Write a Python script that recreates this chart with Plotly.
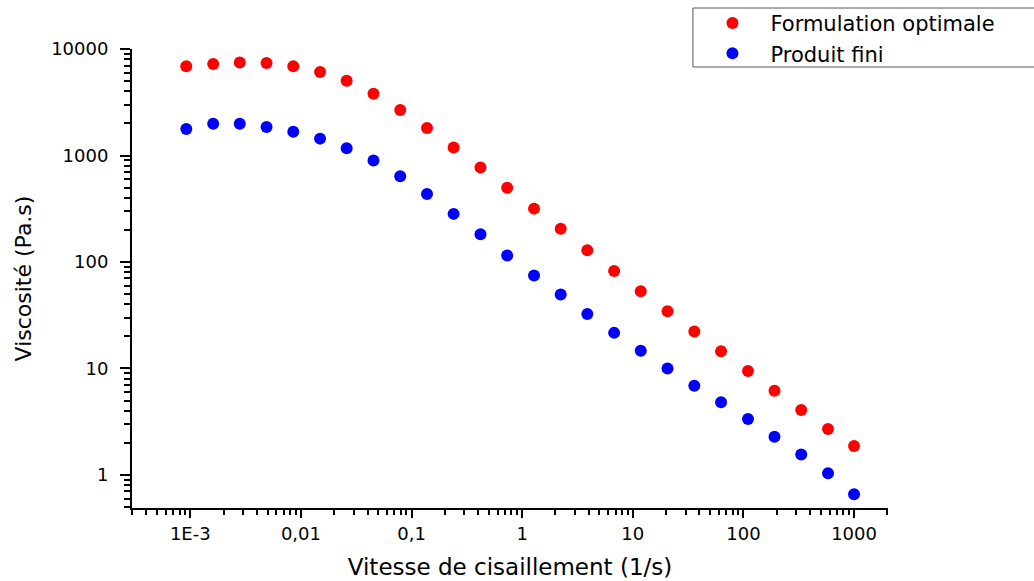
import plotly.graph_objects as go

# Data
shear_rate = [0.00092, 0.00161, 0.0028, 0.00489, 0.00853, 0.0149, 0.0259, 0.0453,
              0.079, 0.138, 0.24, 0.42, 0.732, 1.28, 2.23, 3.88, 6.78, 11.8,
              20.6, 36.0, 62.8, 110, 191, 333, 582, 1000]
visc_formulation = [6870, 7230, 7480, 7390, 6870, 6080, 5040, 3800, 2670, 1810,
                    1190, 771, 497, 317, 205, 129, 82.5, 53.2, 34.5, 22.2,
                    14.5, 9.48, 6.18, 4.07, 2.70, 1.87]
visc_produit = [1770, 1990, 1990, 1850, 1670, 1440, 1170, 898, 640, 434,
                283, 182, 115, 74.5, 49.4, 32.5, 21.6, 14.7, 10.0, 6.89,
                4.81, 3.35, 2.29, 1.56, 1.04, 0.66]

series_names = ["Formulation optimale", "Produit fini"]
x_tickvals = [0.001, 0.01, 0.1, 1, 10, 100, 1000]
x_ticktext = ["1E-3", "0,01", "0,1", "1", "10", "100", "1000"]
y_tickvals = [1, 10, 100, 1000, 10000]
y_ticktext = ["1", "10", "100", "1000", "10000"]

FONT = "DejaVu Sans"

def minor_vals(lo_exp, hi_exp):
    vals = []
    for e in range(lo_exp, hi_exp + 1):
        for m in range(2, 10):
            vals.append(m * 10.0 ** e)
    return vals

fig = go.Figure()
fig.add_trace(go.Scatter(x=shear_rate, y=visc_formulation, mode="markers",
                         name=series_names[0],
                         marker=dict(color="#FF0000", size=12, symbol="circle")))
fig.add_trace(go.Scatter(x=shear_rate, y=visc_produit, mode="markers",
                         name=series_names[1],
                         marker=dict(color="#0000FF", size=12, symbol="circle")))

fig.update_layout(
    width=1034, height=581,
    margin=dict(l=132, r=146, t=49, b=73, autoexpand=False),
    paper_bgcolor="white", plot_bgcolor="white",
    font=dict(family=FONT, color="#000000"),
    showlegend=True,
    legend=dict(x=0.744, y=1.1005, xanchor="left", yanchor="top",
                borderwidth=0, bgcolor="rgba(0,0,0,0)",
                font=dict(family=FONT, size=21, color="#000000"),
                itemwidth=66, tracegroupgap=0),
    shapes=[dict(type="rect", xref="paper", yref="paper",
                 x0=0.742, x1=1.201, y0=0.9608, y1=1.0893,
                 line=dict(color="#555555", width=1), fillcolor="rgba(0,0,0,0)")],
)

fig.update_xaxes(
    type="log", range=[-3.527, 3.307],
    tickmode="array", tickvals=x_tickvals, ticktext=x_ticktext,
    ticks="outside", ticklen=8, tickwidth=2, tickcolor="black",
    showline=True, linecolor="black", linewidth=2, mirror=False,
    showgrid=False, zeroline=False,
    tickfont=dict(family=FONT, size=18, color="black"),
    minor=dict(tickmode="array", tickvals=minor_vals(-4, 3), ticks="outside",
               ticklen=5, tickwidth=1.5, tickcolor="black", showgrid=False),
    title=dict(text="Vitesse de cisaillement (1/s)", standoff=16,
               font=dict(family=FONT, size=23, color="black")),
)
fig.update_yaxes(
    type="log", range=[-0.31, 4.0],
    tickmode="array", tickvals=y_tickvals, ticktext=y_ticktext,
    ticks="outside", ticklen=10, tickwidth=2, tickcolor="black",
    ticklabelstandoff=8,
    showline=True, linecolor="black", linewidth=2, mirror=False,
    showgrid=False, zeroline=False,
    tickfont=dict(family=FONT, size=18, color="black"),
    minor=dict(tickmode="array", tickvals=minor_vals(-1, 3), ticks="outside",
               ticklen=6, tickwidth=1.5, tickcolor="black", showgrid=False),
    title=dict(text="Viscosité (Pa.s)", standoff=13,
               font=dict(family=FONT, size=22, color="black")),
)

fig.write_html("out.html", config={"displayModeBar": False},
               post_script="document.body.style.margin='0';")
